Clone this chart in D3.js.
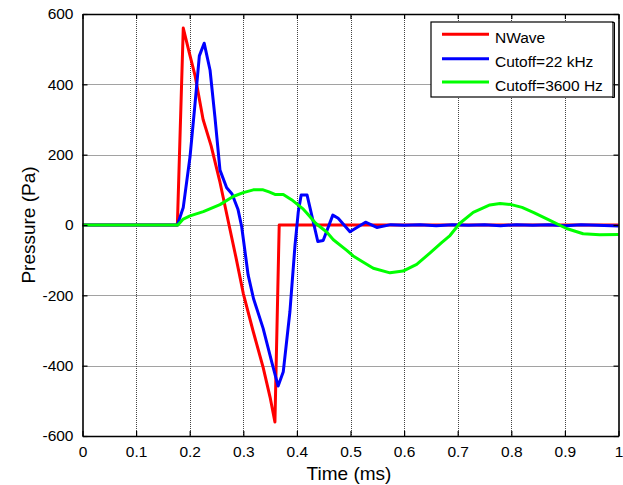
<!DOCTYPE html>
<html><head><meta charset="utf-8">
<script src="https://cdn.jsdelivr.net/npm/d3@7"></script>
<style>body{margin:0;background:#fff}svg{display:block}text{font-family:"Liberation Sans",Arial,sans-serif;fill:#000}</style>
</head><body>
<svg id="c" width="623" height="485"></svg>
<script>
// ---- data ----
const xTicks = [0,0.1,0.2,0.3,0.4,0.5,0.6,0.7,0.8,0.9,1];
const xTickLabels = ["0","0.1","0.2","0.3","0.4","0.5","0.6","0.7","0.8","0.9","1"];
const yTicks = [-600,-400,-200,0,200,400,600];
const yTickLabels = ["-600","-400","-200","0","200","400","600"];
const seriesNames = ["NWave","Cutoff=22 kHz","Cutoff=3600 Hz"];
const seriesColors = ["#ff0000","#0000ff","#00ff00"];

const tRed = [0,0.177,0.188,0.200,0.210,0.225,0.240,0.256,0.272,0.286,0.300,0.318,0.337,0.350,0.359,0.367,1.0];
const pRed = [0,0,560,485,425,300,225,125,10,-90,-195,-300,-405,-490,-560,0,0];

const tBlue = [0,0.177,0.188,0.2006,0.21,0.218,0.227,0.238,0.247,0.2565,0.269,0.279,0.29,0.297,0.309,0.319,0.337,0.353,0.365,0.3746,0.387,0.3965,0.4026,0.408,0.419,0.439,0.449,0.467,0.477,0.499,0.528,0.549,0.575,0.60,0.63,0.66,0.69,0.72,0.75,0.78,0.81,0.84,0.87,0.90,0.93,0.96,1.0];
const pBlue = [0,0,50,194,346,481,517,440,308,156,106,88,45,-5,-142,-209,-294,-389,-458,-417,-246,-57,38,85,85,-47,-44,28,19,-19,8,-7,1,-1,1,-2,1,-1,1,-2,1,-1,1,-2,1,-1,-3];

const tGreen = [0,0.178,0.188,0.2006,0.2254,0.2565,0.281,0.300,0.3187,0.337,0.348,0.359,0.3746,0.390,0.412,0.418,0.435,0.4556,0.468,0.493,0.505,0.524,0.5425,0.5737,0.598,0.6235,0.648,0.67,0.6856,0.704,0.729,0.760,0.779,0.800,0.820,0.841,0.872,0.903,0.934,0.965,1.0];
const pGreen = [0,0,17,26,38,58,81,92,100,100,94,87,87,72,45,35,5,-20,-42,-72,-88,-106,-123,-136,-131,-112,-80,-50,-30,5,36,57,61,58,50,36,13,-10,-25,-28,-27];

// ---- layout ----
const L=82.5, R=618.5, T=14, B=436;
const svg = d3.select("#c");
const x = d3.scaleLinear().domain([0,1]).range([L,R]);
const y = d3.scaleLinear().domain([-600,600]).range([B,T]);

// grid
const g = svg.append("g");
g.selectAll("line.gx").data(xTicks.slice(1,-1)).enter().append("line")
  .attr("x1",d=>Math.round(x(d))+0.5).attr("x2",d=>Math.round(x(d))+0.5).attr("y1",T).attr("y2",B)
  .attr("stroke","#444").attr("stroke-width",1).attr("stroke-dasharray","1,1");
g.selectAll("line.gy").data(yTicks.slice(1,-1)).enter().append("line")
  .attr("y1",d=>Math.round(y(d))+0.5).attr("y2",d=>Math.round(y(d))+0.5).attr("x1",L).attr("x2",R)
  .attr("stroke","#444").attr("stroke-width",1).attr("stroke-dasharray","1,1");

// series
const series = [[tRed,pRed],[tBlue,pBlue],[tGreen,pGreen]];
const line = d3.line().x(d=>x(d[0])).y(d=>y(d[1]));
series.forEach((s,i)=>{
  const pts = s[0].map((t,k)=>[t,s[1][k]]);
  svg.append("path").attr("d",line(pts)).attr("fill","none")
    .attr("stroke",seriesColors[i]).attr("stroke-width",3).attr("stroke-linejoin","round");
});

// axes with inward ticks
const tl = 5;
const xb = d3.axisBottom(x).tickValues(xTicks).tickFormat((d,i)=>xTickLabels[i]).tickSizeInner(-tl).tickSizeOuter(0).tickPadding(10);
const yl = d3.axisLeft(y).tickValues(yTicks).tickFormat((d,i)=>yTickLabels[i]).tickSizeInner(-tl).tickSizeOuter(0).tickPadding(9);
const xt = d3.axisTop(x).tickValues(xTicks).tickFormat("").tickSizeInner(-tl).tickSizeOuter(0);
const yr = d3.axisRight(y).tickValues(yTicks).tickFormat("").tickSizeInner(-tl).tickSizeOuter(0);
function style(sel){
  sel.select(".domain").attr("stroke","#000").attr("stroke-width",1.6);
  sel.selectAll(".tick line").attr("stroke","#000").attr("stroke-width",1.2);
  sel.selectAll("text").style("font-size","15.5px").attr("fill","#000");
}
svg.append("g").attr("transform",`translate(0,${B})`).call(xb).call(style);
svg.append("g").attr("transform",`translate(${L},0)`).call(yl).call(style);
svg.append("g").attr("transform",`translate(0,${T})`).call(xt).call(style);
svg.append("g").attr("transform",`translate(${R},0)`).call(yr).call(style);

// axis labels
svg.append("text").attr("x",349).attr("y",480).attr("text-anchor","middle").style("font-size","19px").text("Time (ms)");
svg.append("text").attr("transform","translate(35,225) rotate(-90)").attr("text-anchor","middle").style("font-size","19px").text("Pressure (Pa)");

// legend
const lg = svg.append("g");
lg.append("rect").attr("x",431).attr("y",22).attr("width",182).attr("height",75)
  .attr("fill","#fff").attr("stroke","#000").attr("stroke-width",1.2);
lg.append("path").attr("d","M612,22.5H614.5V97.5H612").attr("fill","none").attr("stroke","#000").attr("stroke-width",1);
const rowsY = [34.3,58.7,82];
seriesNames.forEach((n,i)=>{
  lg.append("line").attr("x1",442).attr("x2",489).attr("y1",rowsY[i]).attr("y2",rowsY[i])
    .attr("stroke",seriesColors[i]).attr("stroke-width",3);
  lg.append("text").attr("x",495).attr("y",rowsY[i]+8.5).style("font-size","15.5px").text(n);
});
</script>
</body></html>
